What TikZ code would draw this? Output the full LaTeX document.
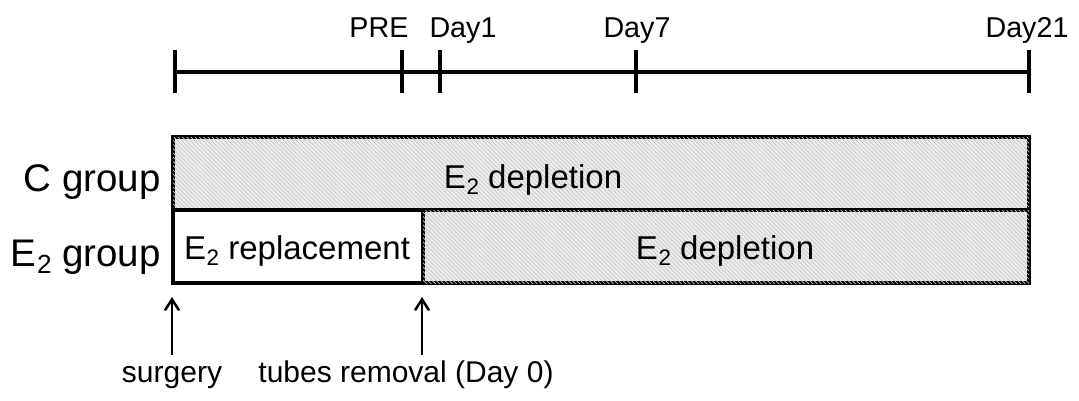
\documentclass[tikz,border=0pt]{standalone}
\usepackage{fontspec}
\setmainfont{Liberation Sans}
\usetikzlibrary{arrows.meta,patterns.meta}
\newcommand\Etwo{E\kern0.02em\raisebox{-0.2em}{\scalebox{0.68}{2}}}
\tikzset{
  tl/.style={line width=4pt},
  ticklab/.style={anchor=base,font=\fontsize{28.7}{30}\selectfont,inner sep=0pt},
  grplab/.style={anchor=base east,font=\fontsize{38.5}{40}\selectfont,inner sep=0pt},
  boxlab/.style={anchor=base,font=\fontsize{33}{35}\selectfont,inner sep=0pt},
  botlab/.style={anchor=base,font=\fontsize{30}{31}\selectfont,inner sep=0pt},
  hatchbox/.style={draw,line width=3.6pt,fill=gray!14,
    postaction={pattern={Lines[angle=-45,distance=3pt,line width=0.7pt]},pattern color=gray!45}},
  plainbox/.style={draw,line width=3.6pt,fill=white},
  uparrow/.style={line width=2.7pt,-{Straight Barb[length=11pt,width=14pt,line width=2.5pt]}}
}
\begin{document}
\begin{tikzpicture}[x=1pt,y=-1pt]
\useasboundingbox (0,0) rectangle (1079,400);
% timeline
\coordinate (t0) at (175,72);
\coordinate (tpre) at (402,72);
\coordinate (t1) at (440,72);
\coordinate (t7) at (636,72);
\coordinate (t21) at (1029,72);
\draw[tl] (t0) -- (t21);
\foreach \c in {t0,tpre,t1,t7,t21}
  \draw[tl] ([yshift=22pt]\c) -- ([yshift=-21pt]\c);
\node[ticklab] (lpre) at (379,37) {PRE};
\node[ticklab] (l1) at (463,37) {Day1};
\node[ticklab] (l7) at (637,37) {Day7};
\node[ticklab] (l21) at (1027,37) {Day21};
% boxes
\node[hatchbox,minimum width=856pt,minimum height=73pt,inner sep=0pt] (cbox) at (601,173.5) {};
\node[plainbox,minimum width=250pt,minimum height=73pt,inner sep=0pt] (rbox) at (298,246.5) {};
\node[hatchbox,minimum width=606pt,minimum height=73pt,inner sep=0pt] (dbox) at (726,246.5) {};
\node[boxlab] (ctext) at (533,188) {\Etwo{} depletion};
\node[boxlab] (rtext) at (297,259) {\Etwo{} replacement};
\node[boxlab] (dtext) at (725,259) {\Etwo{} depletion};
% group labels
\node[grplab] (cgrp) at (161,191) {C group};
\node[grplab] (egrp) at (161,266) {\Etwo{} group};
% bottom labels and arrows
\node[botlab] (surg) at (172,382) {surgery};
\node[botlab] (tube) at (406,382) {tubes removal (Day 0)};
\coordinate (a1s) at (172,355);
\coordinate (a1e) at (172,297);
\coordinate (a2s) at (422,355);
\coordinate (a2e) at (422,297);
\draw[uparrow] (a1s) -- (a1e);
\draw[uparrow] (a2s) -- (a2e);
\end{tikzpicture}
\end{document}
